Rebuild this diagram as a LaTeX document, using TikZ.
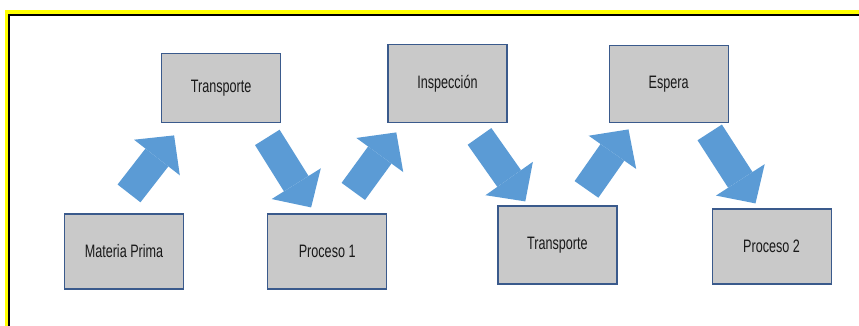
\documentclass[tikz,border=0pt]{standalone}
\usepackage{fontspec}
\setmainfont{Liberation Sans}[FakeStretch=0.7]
\usetikzlibrary{positioning}
\usetikzlibrary{arrows.meta}
\definecolor{boxgray}{RGB}{201,201,201}
\definecolor{boxline}{RGB}{58,90,140}
\definecolor{arrowblue}{RGB}{91,155,213}
\definecolor{frameyellow}{RGB}{255,255,0}

\begin{document}
\begin{tikzpicture}[x=1pt,y=-1pt,
  box/.style={draw=boxline,fill=boxgray,line width=1.2pt,minimum width=119pt,minimum height=75pt,font=\fontsize{18}{21}\selectfont,text=black!90},
  flow/.style={color=arrowblue,line width=29pt,-{Triangle[length=28pt,width=58pt,line width=0pt,fill=arrowblue]}}]
\useasboundingbox (0,0) rectangle (859,325);
\clip (0,0) rectangle (859,325);
% marco
\draw[frameyellow,line width=4pt] (6.5,340) -- (6.5,12) -- (870,12);
\draw[black,line width=1.5pt] (8.8,340) -- (8.8,14.8) -- (870,14.8);
% fila de abajo
\path node[box] (mp) at (124,251.5) {Materia Prima};
\path node[box, right=83pt of mp] (p1) {Proceso 1};
\path node[box, minimum height=78pt, right=110pt of p1, yshift=6.5pt] (t2) {Transporte};
\path node[box, right=94pt of t2, yshift=-1.5pt] (p2) {Proceso 2};
% fila de arriba
\path node[box, minimum height=69pt, above right=90pt and -23pt of mp] (t1) {Transporte};
\path node[box, minimum height=78pt, right=106pt of t1, yshift=4.5pt] (insp) {Inspección};
\path node[box, minimum height=77pt, right=101pt of insp, yshift=-0.5pt] (esp) {Espera};
% flechas
\draw[flow] ([xshift=5pt,yshift=20pt]mp.north) -- ([xshift=13pt,yshift=-12pt]t1.south west);
\draw[flow] ([xshift=-14pt,yshift=-14pt]t1.south east) -- ([xshift=44pt,yshift=6pt]p1.north west);
\draw[flow] ([xshift=-34pt,yshift=22pt]p1.north east) -- ([xshift=9pt,yshift=-9pt]insp.south west);
\draw[flow] ([xshift=-28pt,yshift=-13pt]insp.south east) -- ([xshift=28pt,yshift=4pt]t2.north west);
\draw[flow] ([xshift=-31pt,yshift=16pt]t2.north east) -- ([xshift=20pt,yshift=-6pt]esp.south west);
\draw[flow] ([xshift=-19pt,yshift=-9pt]esp.south east) -- ([xshift=44pt,yshift=5pt]p2.north west);
\end{tikzpicture}
\end{document}
